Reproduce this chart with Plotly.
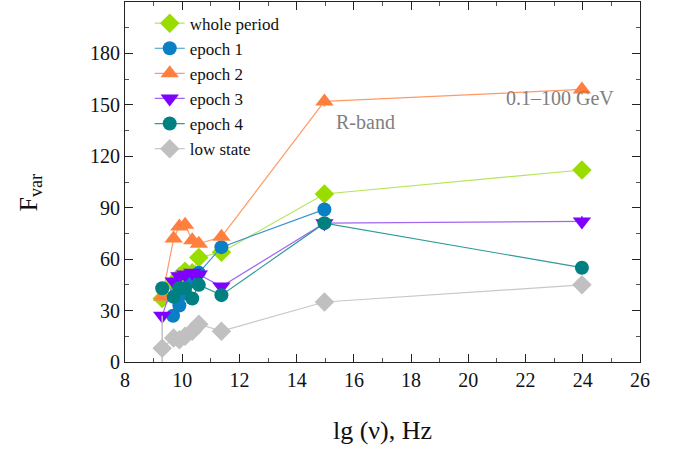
import plotly.graph_objects as go

freq_all = [9.3, 9.7, 9.9, 10.1, 10.35, 10.58, 11.37, 14.97, 23.97]
freq_ep1 = [9.68, 9.9, 10.1, 10.3, 10.58, 11.37, 14.97]

whole = [37, 46, 50, 53, 52, 61, 64, 98, 112]
epoch1 = [27, 33, 40, 47, 52, 67, 89]
epoch2 = [38, 72, 79, 80, 71, 69, 73, 152, 159]
epoch3 = [27, 47, 50, 51, 52, 51, 44, 81, 82]
epoch4 = [43, 38, 43, 43, 37, 45, 39, 81, 55]
low = [8, 14, 13, 15, 18, 22, 18, 35, 45]
low_err = [19, 0, 0, 0, 0, 0, 0, 2, 4]
small_err = [0, 0, 0, 0, 0, 0, 0, 3, 3]

series = [
    ("whole period", freq_all, whole, "#99DD00", "#B5E65A", "diamond", 15, small_err),
    ("epoch 1", freq_ep1, epoch1, "#0A7FC4", "#3C96D2", "circle", 14, None),
    ("epoch 2", freq_all, epoch2, "#FF7F3F", "#FF9A66", "triangle-up", 16, small_err),
    ("epoch 3", freq_all, epoch3, "#7F00FF", "#A266F0", "triangle-down", 16, small_err),
    ("epoch 4", freq_all, epoch4, "#008080", "#2E9A9A", "circle", 14, None),
    ("low state", freq_all, low, "#C0C0C0", "#C8C8C8", "diamond", 15, low_err),
]

font_family = "Liberation Serif"

fig = go.Figure()
for name, xs, ys, mc, lc, sym, size, err in series:
    kw = {}
    if err is not None:
        kw["error_y"] = dict(type="data", array=err, visible=True, color=mc,
                             thickness=1.5, width=0)
    fig.add_trace(go.Scatter(
        x=xs, y=ys, name=name, mode="lines+markers",
        line=dict(color=lc, width=1.2),
        marker=dict(symbol=sym, size=size, color=mc, line=dict(width=0)),
        **kw))

fig.add_annotation(x=16.4, y=140, text="R-band", showarrow=False,
                   font=dict(family=font_family, size=20, color="#808080"),
                   xanchor="center", yanchor="middle")
fig.add_annotation(x=23.2, y=154, text="0.1\u2013100 GeV", showarrow=False,
                   font=dict(family=font_family, size=20, color="#808080"),
                   xanchor="center", yanchor="middle")
# y-axis title
fig.add_annotation(x=-0.185, y=0.47, xref="paper", yref="paper",
                   text="F<sub>var</sub>", textangle=-90, showarrow=False,
                   font=dict(family=font_family, size=26, color="#111111"),
                   xanchor="center", yanchor="middle")

axis_common = dict(
    showline=True, linecolor="#222222", linewidth=1, mirror="ticks",
    ticks="inside", ticklen=8, tickwidth=1, tickcolor="#222222",
    showgrid=False, zeroline=False,
    tickfont=dict(family=font_family, size=20, color="#111111"),
)

fig.update_xaxes(range=[8, 26], dtick=2, tick0=8,
                 minor=dict(dtick=1, ticks="inside", ticklen=4, tickcolor="#555555"),
                 title=dict(text="lg (\u03bd), Hz", font=dict(family=font_family, size=26, color="#111111"),
                            standoff=30),
                 **axis_common)
fig.update_yaxes(range=[0, 210], dtick=30, tick0=0,
                 minor=dict(dtick=15, ticks="inside", ticklen=4, tickcolor="#555555"),
                 **axis_common)

fig.update_layout(
    width=683, height=452,
    margin=dict(l=125, r=43, t=2, b=90),
    paper_bgcolor="white", plot_bgcolor="white",
    font=dict(family=font_family, color="#111111"),
    showlegend=True,
    legend=dict(x=0.048, y=0.99, xanchor="left", yanchor="top",
                bgcolor="rgba(0,0,0,0)", borderwidth=0,
                font=dict(family=font_family, size=17, color="#111111"),
                tracegroupgap=0),
)

fig.write_html("out.html")
